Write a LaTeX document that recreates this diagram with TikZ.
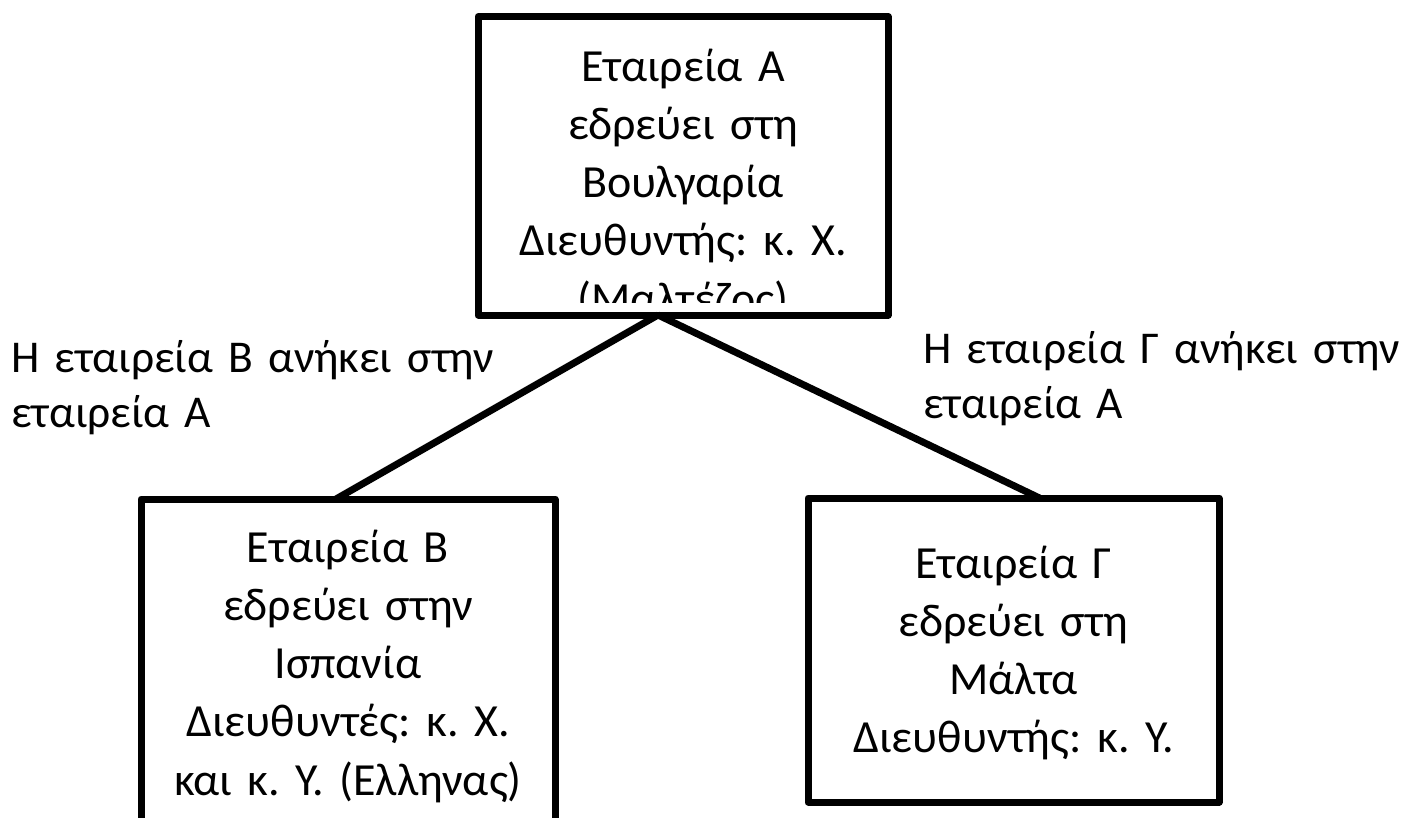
\documentclass[tikz,border=0pt]{standalone}
\usepackage{fontspec}
\setmainfont{Carlito}
\frenchspacing
\begin{document}
\begin{tikzpicture}[x=1pt, y=-1pt,
    box/.style={draw, line width=7pt, line join=round, inner sep=0pt, outer sep=0pt},
    txt/.style={align=center, text width=405pt, inner sep=0pt, font=\fontsize{46}{58.3}\selectfont},
    lbl/.style={align=left, text width=500pt, inner sep=0pt, font=\fontsize{45.5}{55}\selectfont}]
\clip (0,0) rectangle (1420,817);
\fill[white] (0,0) rectangle (1420,817);
% the three companies
\node[box, minimum width=410pt, minimum height=298.5pt, anchor=north west] (A) at (478,16.5) {};
\node[box, minimum width=414pt, minimum height=400pt, anchor=north west] (B) at (141,499) {};
\node[box, minimum width=411pt, minimum height=304pt, anchor=north west] (C) at (808,498) {};
\begin{scope}
    \clip (482,20) rectangle (884,302);
    \node[txt, anchor=base] (tA) at (683,81) {Εταιρεία Α\\εδρεύει στη\\Βουλγαρία\\Διευθυντής: κ. Χ.\\(Μαλτέζος)};
\end{scope}
\node[txt, anchor=base] (tB) at (348,562) {Εταιρεία Β\\εδρεύει στην\\Ισπανία\\Διευθυντές: κ. Χ.\\και κ. Υ. (Ελληνας)};
\node[txt, anchor=base] (tC) at (1013.5,578) {Εταιρεία Γ\\εδρεύει στη\\Μάλτα\\Διευθυντής: κ. Υ.};
% ownership
\coordinate (apex) at ([xshift=-25pt]A.south);
\draw[line width=7pt](apex)--([xshift=-12pt]B.north);
\draw[line width=7pt](apex)--([xshift=26pt]C.north);
\node[lbl, anchor=base west] (lB) at (11,372) {Η εταιρεία Β ανήκει στην\\εταιρεία Α};
\node[lbl, anchor=base west] (lC) at (923,363) {Η εταιρεία Γ ανήκει στην\\εταιρεία Α};
\end{tikzpicture}
\end{document}
